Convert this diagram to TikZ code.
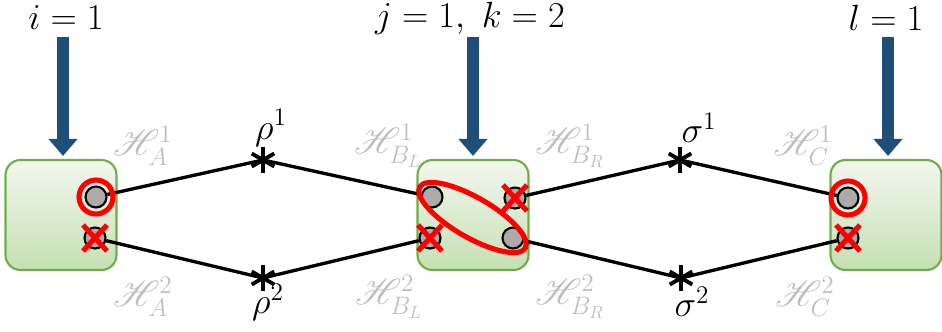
\documentclass[tikz,border=0pt]{standalone}
\usepackage{amsmath}
\usepackage{mathrsfs}
\usetikzlibrary{arrows.meta}
\definecolor{myblue}{RGB}{31,78,121}
\definecolor{mygreen}{RGB}{112,173,71}
\definecolor{mygreentop}{RGB}{242,247,238}
\definecolor{mygreenbot}{RGB}{197,224,180}
\definecolor{mygrey}{RGB}{174,170,170}
\definecolor{mylabel}{RGB}{191,191,191}
\definecolor{myred}{RGB}{255,0,0}

\begin{document}
\begin{tikzpicture}[x=0.02cm,y=-0.02cm,
  font=\fontsize{20}{24}\selectfont,
  hbox/.style={draw=mygreen, line width=1.2pt, rounded corners=0.3cm, top color=mygreentop, bottom color=mygreenbot, minimum width=2.22cm, minimum height=2.2cm},
  dot/.style={circle, draw=black, fill=mygrey, line width=1.2pt, inner sep=0pt, minimum size=0.42cm},
  wire/.style={line width=1.9pt},
  redline/.style={draw=myred, line width=2.9pt},
  astline/.style={line width=2.2pt},
  pick/.style={line width=6.8pt, myblue, -{Triangle[width=0.56cm,length=0.34cm]}, shorten >=0.06cm},
  hlabel/.style={text=mylabel},
  pt/.style={inner sep=0pt, minimum size=0pt}
]
\useasboundingbox (0,0) rectangle (942,331);

%boxes
\node[hbox] (boxA) at (61,215) {};
\node[hbox] (boxB) at (473,215) {};
\node[hbox] (boxC) at (886,215) {};

%stars
\node[pt] (r1) at (263,160) {};
\node[pt] (r2) at (263,278) {};
\node[pt] (s1) at (680,160) {};
\node[pt] (s2) at (681,278) {};
\foreach \s in {r1,r2,s1,s2}{
  \foreach \a in {90,30,-30}{
    \draw[astline] ([shift={(\a:13)}]\s.center) -- ([shift={(\a+180:13)}]\s.center);
  }
}

%dots
\node[dot] (a1) at (96,197) {};
\node[dot] (a2) at (95,238) {};
\node[dot] (bl1) at (432,197) {};
\node[dot] (bl2) at (430,238) {};
\node[dot] (br1) at (515,198) {};
\node[dot] (br2) at (513,238) {};
\node[dot] (c1) at (848,198) {};
\node[dot] (c2) at (848,238) {};

\draw[wire] (a1) -- (r1.center) -- (bl1);
\draw[wire] (a2) -- (r2.center) -- (bl2);
\draw[wire] (br1) -- (s1.center) -- (c1);
\draw[wire] (br2) -- (s2.center) -- (c2);

%chosen and dropped
\draw[redline] (a1) circle[radius=17];
\draw[redline] (c1) circle[radius=17];
\draw[redline, rotate around={-30:(472.5,217.5)}] (472.5,217.5) ellipse[x radius=61, y radius=20];
\foreach \d in {a2,bl2,br1,c2}{
  \draw[redline] ([shift={(-12,-13)}]\d.center) -- ([shift={(12,13)}]\d.center);
  \draw[redline] ([shift={(-12,13)}]\d.center) -- ([shift={(12,-13)}]\d.center);
}

%labels
\node (ri1) at (271,128) {$\rho^1$};
\node (ri2) at (268,302) {$\rho^2$};
\node (si1) at (699,128) {$\sigma^1$};
\node (si2) at (692,302) {$\sigma^2$};

\node[hlabel] (hA1) at (143,146) {$\mathscr{H}^1_A$};
\node[hlabel] (hA2) at (143,297) {$\mathscr{H}^2_A$};
\node[hlabel] (hBL1) at (388,146) {$\mathscr{H}^1_{B_L}$};
\node[hlabel] (hBL2) at (389,297) {$\mathscr{H}^2_{B_L}$};
\node[hlabel] (hBR1) at (570,146) {$\mathscr{H}^1_{B_R}$};
\node[hlabel] (hBR2) at (570,297) {$\mathscr{H}^2_{B_R}$};
\node[hlabel] (hC1) at (803,146) {$\mathscr{H}^1_C$};
\node[hlabel] (hC2) at (805,297) {$\mathscr{H}^2_C$};

%indices
\node (ni) at (66,18) {$i=1$};
\node (njk) at (470,18) {$j=1,\ k=2$};
\node (nl) at (886,18) {$l=1$};
\coordinate (ti) at (63,37);
\coordinate (tjk) at (473,37);
\coordinate (tl) at (888,37);
\draw[pick] (ti) -- (ti |- boxA.north);
\draw[pick] (tjk) -- (tjk |- boxB.north);
\draw[pick] (tl) -- (tl |- boxC.north);

\end{tikzpicture}
\end{document}
